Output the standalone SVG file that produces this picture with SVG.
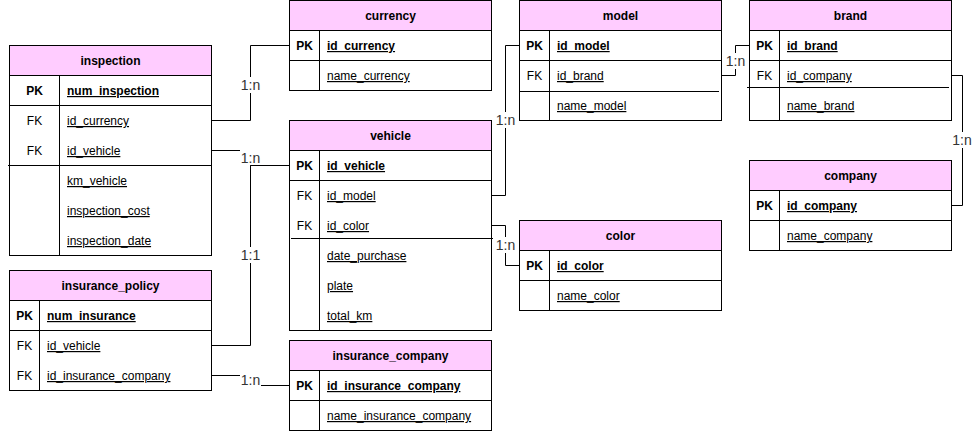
<svg xmlns="http://www.w3.org/2000/svg" width="972" height="431" viewBox="0 0 972 431">
<style>
.bg{fill:#fff}
.body{fill:#fff;stroke:#000;stroke-width:1}
.hdr{fill:#FFCCFF;stroke:#000;stroke-width:1}
.ln{stroke:#000;stroke-width:1;fill:none}
.t{font-family:"Liberation Sans",Arial,Helvetica,sans-serif;font-size:12px;fill:#000}
.b{font-weight:bold}
.u{text-decoration:underline}
.c{text-anchor:middle}
.edge{fill:none;stroke:#000;stroke-width:1}
.lbl{font-family:"Liberation Sans",Arial,Helvetica,sans-serif;font-size:14px;fill:#333;text-anchor:middle}
.lbg{fill:#fff}
</style>
<rect class="bg" x="0" y="0" width="972" height="431"/>

<g id="connectors">
  <path class="edge" d="M211.5 120.5 H250.5 V45.5 H289.5"/>
  <path class="edge" d="M211.5 150.5 H250.5 V165.5 H289.5"/>
  <path class="edge" d="M211.5 345.5 H250.5 V165.5 H289.5"/>
  <path class="edge" d="M211.5 375.5 H250.5 V385.5 H289.5"/>
  <path class="edge" d="M491.5 195.5 H505.5 V45.5 H519.5"/>
  <path class="edge" d="M491.5 225.5 H505.5 V265.5 H519.5"/>
  <path class="edge" d="M721.5 75.5 H735.5 V45.5 H749.5"/>
  <path class="edge" d="M951.5 75.5 H962.5 V205.5 H951.5"/>
  <rect class="lbg" x="240" y="77" width="21" height="16"/>
  <text class="lbl" x="250.5" y="90">1:n</text>
  <rect class="lbg" x="240" y="150" width="21" height="15"/>
  <text class="lbl" x="250.5" y="163">1:n</text>
  <rect class="lbg" x="240" y="247" width="21" height="16"/>
  <text class="lbl" x="250.5" y="260">1:1</text>
  <rect class="lbg" x="240" y="372" width="21" height="16"/>
  <text class="lbl" x="250.5" y="385">1:n</text>
  <rect class="lbg" x="495" y="112" width="21" height="16"/>
  <text class="lbl" x="505.5" y="125">1:n</text>
  <rect class="lbg" x="495" y="237" width="21" height="16"/>
  <text class="lbl" x="505.5" y="250">1:n</text>
  <rect class="lbg" x="725" y="53" width="21" height="16"/>
  <text class="lbl" x="735.5" y="66">1:n</text>
  <rect class="lbg" x="952" y="132" width="21" height="16"/>
  <text class="lbl" x="962" y="145">1:n</text>
</g>

<g id="inspection">
  <rect class="body" x="9.5" y="45.5" width="202" height="210"/>
  <rect class="hdr" x="9.5" y="45.5" width="202" height="30"/>
  <line class="ln" x1="9.5" y1="105.5" x2="211.5" y2="105.5"/>
  <line class="ln" x1="8" y1="165.5" x2="211.5" y2="165.5"/>
  <line class="ln" x1="59.5" y1="75.5" x2="59.5" y2="255.5"/>
  <text class="t b c" x="110.5" y="65">inspection</text>
  <text class="t b c" x="34.5" y="95">PK</text>
  <text class="t b u" x="67" y="95">num_inspection</text>
  <text class="t c" x="34.5" y="125">FK</text>
  <text class="t u" x="67" y="125">id_currency</text>
  <text class="t c" x="34.5" y="155">FK</text>
  <text class="t u" x="67" y="155">id_vehicle</text>
  <text class="t u" x="67" y="185">km_vehicle</text>
  <text class="t u" x="67" y="215">inspection_cost</text>
  <text class="t u" x="67" y="245">inspection_date</text>
</g>

<g id="currency">
  <rect class="body" x="289.5" y="0.5" width="202" height="90"/>
  <rect class="hdr" x="289.5" y="0.5" width="202" height="30"/>
  <line class="ln" x1="289.5" y1="60.5" x2="491.5" y2="60.5"/>
  <line class="ln" x1="319.5" y1="30.5" x2="319.5" y2="90.5"/>
  <text class="t b c" x="390.5" y="20">currency</text>
  <text class="t b c" x="304.5" y="50">PK</text>
  <text class="t b u" x="327" y="50">id_currency</text>
  <text class="t u" x="327" y="80">name_currency</text>
</g>

<g id="model">
  <rect class="body" x="519.5" y="0.5" width="202" height="120"/>
  <rect class="hdr" x="519.5" y="0.5" width="202" height="30"/>
  <line class="ln" x1="519.5" y1="60.5" x2="721.5" y2="60.5"/>
  <line class="ln" x1="519.5" y1="91.5" x2="719" y2="91.5"/>
  <line class="ln" x1="549.5" y1="30.5" x2="549.5" y2="120.5"/>
  <text class="t b c" x="620.5" y="20">model</text>
  <text class="t b c" x="534.5" y="50">PK</text>
  <text class="t b u" x="557" y="50">id_model</text>
  <text class="t c" x="534.5" y="80">FK</text>
  <text class="t u" x="557" y="80">id_brand</text>
  <text class="t u" x="557" y="110">name_model</text>
</g>

<g id="brand">
  <rect class="body" x="749.5" y="0.5" width="202" height="120"/>
  <rect class="hdr" x="749.5" y="0.5" width="202" height="30"/>
  <line class="ln" x1="749.5" y1="60.5" x2="951.5" y2="60.5"/>
  <line class="ln" x1="747" y1="87.5" x2="949" y2="87.5"/>
  <line class="ln" x1="779.5" y1="30.5" x2="779.5" y2="120.5"/>
  <text class="t b c" x="850.5" y="20">brand</text>
  <text class="t b c" x="764.5" y="50">PK</text>
  <text class="t b u" x="787" y="50">id_brand</text>
  <text class="t c" x="764.5" y="80">FK</text>
  <text class="t u" x="787" y="80">id_company</text>
  <text class="t u" x="787" y="110">name_brand</text>
</g>

<g id="company">
  <rect class="body" x="749.5" y="160.5" width="202" height="90"/>
  <rect class="hdr" x="749.5" y="160.5" width="202" height="30"/>
  <line class="ln" x1="749.5" y1="220.5" x2="951.5" y2="220.5"/>
  <line class="ln" x1="779.5" y1="190.5" x2="779.5" y2="250.5"/>
  <text class="t b c" x="850.5" y="180">company</text>
  <text class="t b c" x="764.5" y="210">PK</text>
  <text class="t b u" x="787" y="210">id_company</text>
  <text class="t u" x="787" y="240">name_company</text>
</g>

<g id="vehicle">
  <rect class="body" x="289.5" y="120.5" width="202" height="210"/>
  <rect class="hdr" x="289.5" y="120.5" width="202" height="30"/>
  <line class="ln" x1="289.5" y1="180.5" x2="491.5" y2="180.5"/>
  <line class="ln" x1="291" y1="238.5" x2="493" y2="238.5"/>
  <line class="ln" x1="319.5" y1="150.5" x2="319.5" y2="330.5"/>
  <text class="t b c" x="390.5" y="140">vehicle</text>
  <text class="t b c" x="304.5" y="170">PK</text>
  <text class="t b u" x="327" y="170">id_vehicle</text>
  <text class="t c" x="304.5" y="200">FK</text>
  <text class="t u" x="327" y="200">id_model</text>
  <text class="t c" x="304.5" y="230">FK</text>
  <text class="t u" x="327" y="230">id_color</text>
  <text class="t u" x="327" y="260">date_purchase</text>
  <text class="t u" x="327" y="290">plate</text>
  <text class="t u" x="327" y="320">total_km</text>
</g>

<g id="color">
  <rect class="body" x="519.5" y="220.5" width="202" height="90"/>
  <rect class="hdr" x="519.5" y="220.5" width="202" height="30"/>
  <line class="ln" x1="519.5" y1="280.5" x2="721.5" y2="280.5"/>
  <line class="ln" x1="549.5" y1="250.5" x2="549.5" y2="310.5"/>
  <text class="t b c" x="620.5" y="240">color</text>
  <text class="t b c" x="534.5" y="270">PK</text>
  <text class="t b u" x="557" y="270">id_color</text>
  <text class="t u" x="557" y="300">name_color</text>
</g>

<g id="insurance_policy">
  <rect class="body" x="9.5" y="270.5" width="202" height="120"/>
  <rect class="hdr" x="9.5" y="270.5" width="202" height="30"/>
  <line class="ln" x1="9.5" y1="330.5" x2="211.5" y2="330.5"/>
  <line class="ln" x1="39.5" y1="300.5" x2="39.5" y2="390.5"/>
  <text class="t b c" x="110.5" y="290">insurance_policy</text>
  <text class="t b c" x="24.5" y="320">PK</text>
  <text class="t b u" x="47" y="320">num_insurance</text>
  <text class="t c" x="24.5" y="350">FK</text>
  <text class="t u" x="47" y="350">id_vehicle</text>
  <text class="t c" x="24.5" y="380">FK</text>
  <text class="t u" x="47" y="380">id_insurance_company</text>
</g>

<g id="insurance_company">
  <rect class="body" x="289.5" y="340.5" width="202" height="90"/>
  <rect class="hdr" x="289.5" y="340.5" width="202" height="30"/>
  <line class="ln" x1="289.5" y1="400.5" x2="491.5" y2="400.5"/>
  <line class="ln" x1="319.5" y1="370.5" x2="319.5" y2="430.5"/>
  <text class="t b c" x="390.5" y="360">insurance_company</text>
  <text class="t b c" x="304.5" y="390">PK</text>
  <text class="t b u" x="327" y="390">id_insurance_company</text>
  <text class="t u" x="327" y="420">name_insurance_company</text>
</g>
</svg>
